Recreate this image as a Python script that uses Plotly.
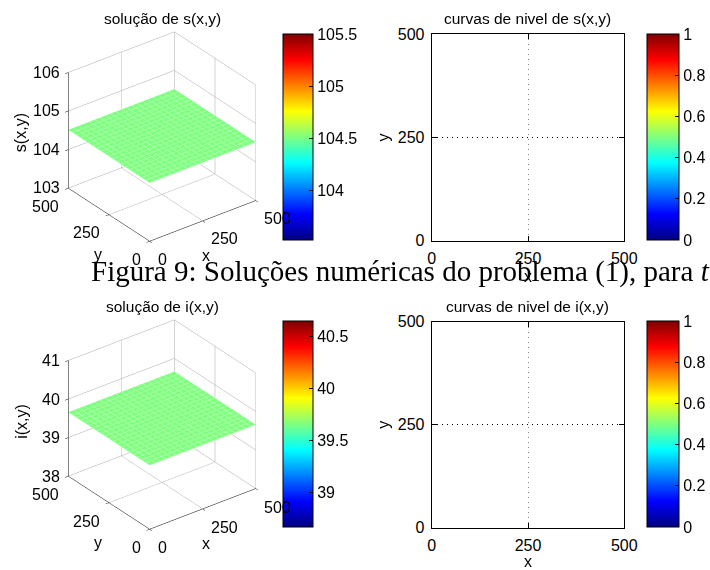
import numpy as np
import plotly.graph_objects as go

# ---- data ----
x_grid = list(range(0, 501, 25))
y_grid = list(range(0, 501, 25))
s_value = 104.515
i_value = 39.66
clim_halfwidth = 0.99
s_zticks = [103, 104, 105, 106]
i_zticks = [38, 39, 40, 41]
xy_ticks = [0, 250, 500]
cb_levels = [0, 1]
titles = ["solução de s(x,y)", "curvas de nivel de s(x,y)",
          "solução de i(x,y)", "curvas de nivel de i(x,y)"]
caption = "Figura 9: Soluções numéricas do problema (1), para <i>t</i>"

W, H = 710, 570
FONT = "Liberation Sans, Arial, sans-serif"
TICK = 16
EPS = 1e-3

jet = [[0.0, "rgb(0,0,128)"], [0.125, "rgb(0,0,255)"], [0.375, "rgb(0,255,255)"],
       [0.625, "rgb(255,255,0)"], [0.875, "rgb(255,0,0)"], [1.0, "rgb(128,0,0)"]]

def px_x(p):
    return p / W

def px_y(p):
    return 1 - p / H

fig = go.Figure()

def add_surface(value, scene, cb_top):
    z = np.full((len(y_grid), len(x_grid)), value)
    fig.add_trace(go.Surface(
        x=x_grid, y=y_grid, z=z, scene=scene,
        colorscale=jet, cmin=value - clim_halfwidth, cmax=value + clim_halfwidth,
        lighting=dict(ambient=1, diffuse=0, specular=0, roughness=1, fresnel=0),
        contours=dict(x=dict(show=True, start=0, end=500, size=25,
                             color="rgb(190,255,190)", width=1),
                      y=dict(show=True, start=0, end=500, size=25,
                             color="rgb(190,255,190)", width=1)),
        hoverinfo="skip",
        colorbar=dict(x=px_x(283), xanchor="left", xpad=0, ypad=0,
                      thickness=30, thicknessmode="pixels",
                      len=206 / H, lenmode="fraction",
                      y=px_y(cb_top), yanchor="top",
                      outlinewidth=1, outlinecolor="black",
                      ticks="inside", ticklen=4, tickcolor="black",
                      tick0=0, dtick=0.5,
                      tickfont=dict(size=16, family=FONT, color="black")),
    ))

def add_contour(value, xa, ya, cb_top):
    z = np.full((len(y_grid), len(x_grid)), value)
    fig.add_trace(go.Contour(
        x=x_grid, y=y_grid, z=z, xaxis=xa, yaxis=ya,
        autocontour=False, contours=dict(start=0, end=1, size=0.1, coloring="lines"),
        colorscale=jet, zmin=0, zmax=1, showscale=False, hoverinfo="skip",
    ))
    fig.add_trace(go.Scatter(
        x=[None], y=[None], xaxis=xa, yaxis=ya, mode="markers", showlegend=False,
        marker=dict(color=cb_levels, colorscale=jet, cmin=0, cmax=1, showscale=True,
                    colorbar=dict(x=px_x(647), xanchor="left", xpad=0, ypad=0,
                                  thickness=32, thicknessmode="pixels",
                                  len=206 / H, lenmode="fraction",
                                  y=px_y(cb_top), yanchor="top",
                                  outlinewidth=1, outlinecolor="black",
                                  ticks="inside", ticklen=4, tickcolor="black",
                                  tick0=0, dtick=0.2,
                                  tickfont=dict(size=16, family=FONT, color="black"))),
    ))

add_surface(s_value, "scene", 34)
add_surface(i_value, "scene2", 321)
add_contour(s_value, "x", "y", 34)
add_contour(i_value, "x2", "y2", 321)

def ax3d(ticks, rng):
    return dict(title=dict(text=""), range=rng, tickvals=ticks, showticklabels=False,
                showbackground=False,
                showgrid=True, gridcolor="#a8a8a8", gridwidth=1,
                showline=True, linecolor="black", linewidth=1,
                zeroline=False, showspikes=False,
                ticks="outside", tickcolor="black", ticklen=4)

k = 1.42
A = 1.065
eye = dict(x=-0.527 * k, y=-0.687 * k, z=0.5 * k)
cam = dict(eye=eye, up=dict(x=0, y=0, z=1), center=dict(x=0, y=0, z=0),
           projection=dict(type="orthographic"))

def tick_annotations(zt, zlabel):
    z0 = zt[0]
    zmid = (zt[0] + zt[-1]) / 2
    a = []
    f = dict(size=TICK, family=FONT, color="black")
    for t in xy_ticks:
        a.append(dict(x=t, y=0, z=z0, text=str(t), showarrow=False, font=f,
                      xanchor="left", yanchor="top", xshift=6, yshift=-8))
        a.append(dict(x=0, y=t, z=z0, text=str(t), showarrow=False, font=f,
                      xanchor="right", yanchor="top", xshift=-7, yshift=-8))
    for t in zt:
        a.append(dict(x=0, y=500, z=t, text=str(t), showarrow=False, font=f,
                      xanchor="right", yanchor="middle", xshift=-6))
    a.append(dict(x=250, y=0, z=z0, text="x", showarrow=False, font=f,
                  xanchor="center", yanchor="middle", xshift=3, yshift=-35))
    a.append(dict(x=0, y=250, z=z0, text="y", showarrow=False, font=f,
                  xanchor="center", yanchor="middle", xshift=-11, yshift=-40))
    a.append(dict(x=0, y=500, z=zmid, text=zlabel, showarrow=False, font=f, textangle=-90,
                  xanchor="center", yanchor="middle", xshift=-47, yshift=-3))
    return a

def scene(cy, zt, zlabel):
    cx = px_x(162)
    return dict(domain=dict(x=[cx - 0.2, cx + 0.2], y=[cy - 0.22, cy + 0.22]),
                xaxis=ax3d(xy_ticks, [0 - EPS, 500 + EPS]),
                yaxis=ax3d(xy_ticks, [0 - EPS, 500 + EPS]),
                zaxis=ax3d(zt, [zt[0] - EPS, zt[-1] + EPS]),
                aspectmode="manual", aspectratio=dict(x=A, y=A, z=A),
                camera=cam, dragmode=False,
                annotations=tick_annotations(zt, zlabel))

def ax2d(dom, title, anchor, gridcolor, title_standoff, label_standoff):
    return dict(domain=dom, range=[0, 500], tickvals=xy_ticks, anchor=anchor,
                automargin=False,
                title=dict(text=title, font=dict(size=16, family=FONT, color="black"),
                           standoff=title_standoff),
                showline=True, linecolor="black", linewidth=1, mirror="ticks",
                ticks="inside", ticklen=5, tickcolor="black",
                showgrid=True, gridcolor=gridcolor, griddash="1px,4px", gridwidth=1,
                zeroline=False, fixedrange=True, ticklabelstandoff=label_standoff,
                tickfont=dict(size=16, family=FONT, color="black"))

xd = [px_x(431.7), px_x(624.3)]
fig.update_layout(
    width=W, height=H, margin=dict(l=0, r=0, t=0, b=0, autoexpand=False),
    paper_bgcolor="white", plot_bgcolor="white", showlegend=False,
    font=dict(family=FONT, color="black"),
    scene=scene(px_y(136), s_zticks, "s(x,y)"),
    scene2=scene(px_y(424.7), i_zticks, "i(x,y)"),
    xaxis=ax2d(xd, "x", "y", "#888888", 4, 3),
    yaxis=ax2d([px_y(240.7), px_y(34.3)], "y", "x", "#000000", 4, 3),
    xaxis2=ax2d(xd, "x", "y2", "#888888", 4, 3),
    yaxis2=ax2d([px_y(527.7), px_y(321.7)], "y", "x2", "#000000", 4, 3),
)

ann = []
for t, (cx, cy) in zip(titles, [(162, 19), (527.5, 19), (162, 306), (527.5, 306)]):
    ann.append(dict(text=t, x=px_x(cx), y=px_y(cy), xref="paper", yref="paper",
                    xanchor="center", yanchor="middle", showarrow=False,
                    font=dict(size=15.5, family=FONT, color="black")))
ann.append(dict(text=caption, x=px_x(89), y=px_y(272), xref="paper", yref="paper",
                xanchor="left", yanchor="middle", showarrow=False,
                font=dict(size=29, family="Liberation Serif, DejaVu Serif, serif", color="black")))
fig.update_layout(annotations=ann)

fig.write_html("out.html")
